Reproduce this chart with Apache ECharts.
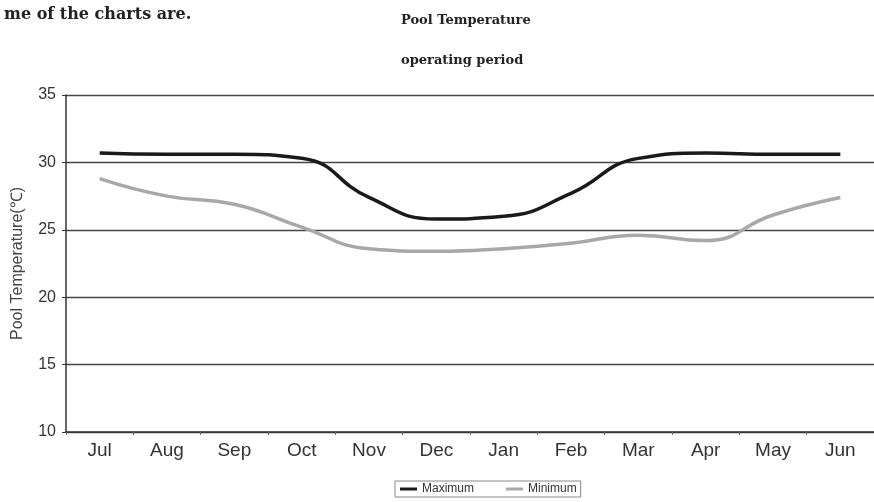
<!DOCTYPE html>
<html><head><meta charset="utf-8">
<script src="https://cdn.jsdelivr.net/npm/echarts@6/dist/echarts.min.js"></script>
<style>html,body{margin:0;padding:0;background:#fff}#c{width:874px;height:502px}</style>
</head><body><div id="c"></div>
<script>
const months = ['Jul','Aug','Sep','Oct','Nov','Dec','Jan','Feb','Mar','Apr','May','Jun'];
const maximum = [30.7, 30.6, 30.6, 30.3, 27.4, 25.8, 26.0, 27.7, 30.3, 30.7, 30.6, 30.6];
const minimum = [28.8, 27.5, 26.9, 25.2, 23.6, 23.4, 23.6, 24.0, 24.6, 24.2, 26.1, 27.4];
const yTicks = [10, 15, 20, 25, 30, 35];

const chart = echarts.init(document.getElementById('c'), null, {renderer:'canvas'});
chart.setOption({
  animation: false,
  title: [
    {text:'me of the charts are.', left:-1, top:2, textStyle:{fontFamily:'DejaVu Serif', fontWeight:'bold', fontSize:16, color:'#222'}},
    {text:'Pool Temperature', left:396, top:9, textStyle:{fontFamily:'DejaVu Serif', fontWeight:'bold', fontSize:13, color:'#222'}},
    {text:'operating period', left:396, top:49, textStyle:{fontFamily:'DejaVu Serif', fontWeight:'bold', fontSize:13, color:'#222'}}
  ],
  legend: {
    top: 481, left: 395, itemWidth: 17, itemHeight: 3, itemGap: 32,
    borderColor:'#888', borderWidth:1, padding:[2,4,2,5],
    icon: 'rect',
    textStyle:{fontFamily:'Liberation Sans', fontSize:12, color:'#333'},
    data:['Maximum','Minimum']
  },
  grid: {left:66, right:0, top:95, bottom:70},
  xAxis: {
    type:'category', data: months, boundaryGap:true,
    axisLine:{show:true, lineStyle:{color:'#333', width:1.5}},
    axisTick:{show:true, length:3, lineStyle:{color:'#666'}},
    axisLabel:{fontFamily:'Liberation Sans', fontSize:19, color:'#333', margin:9}
  },
  yAxis: {
    type:'value', min:yTicks[0], max:yTicks[yTicks.length-1], interval:5,
    name:'Pool Temperature(℃)', nameLocation:'middle', nameGap:40, nameRotate:90,
    nameTextStyle:{fontFamily:'Liberation Sans', fontSize:16, color:'#444'},
    axisLine:{show:true, lineStyle:{color:'#333', width:1.5}},
    axisTick:{show:true, length:4, lineStyle:{color:'#333'}},
    axisLabel:{fontFamily:'Liberation Sans', fontSize:16, color:'#333', margin:10},
    splitLine:{show:true, lineStyle:{color:'#444', width:1.3}}
  },
  series: [
    {name:'Maximum', type:'line', data: maximum, smooth:0.5, symbol:'none',
     lineStyle:{color:'#1a1a1a', width:3.5}, itemStyle:{color:'#1a1a1a'}},
    {name:'Minimum', type:'line', data: minimum, smooth:0.5, symbol:'none',
     lineStyle:{color:'#a8a8a8', width:3.5}, itemStyle:{color:'#a8a8a8'}}
  ]
});
</script></body></html>
